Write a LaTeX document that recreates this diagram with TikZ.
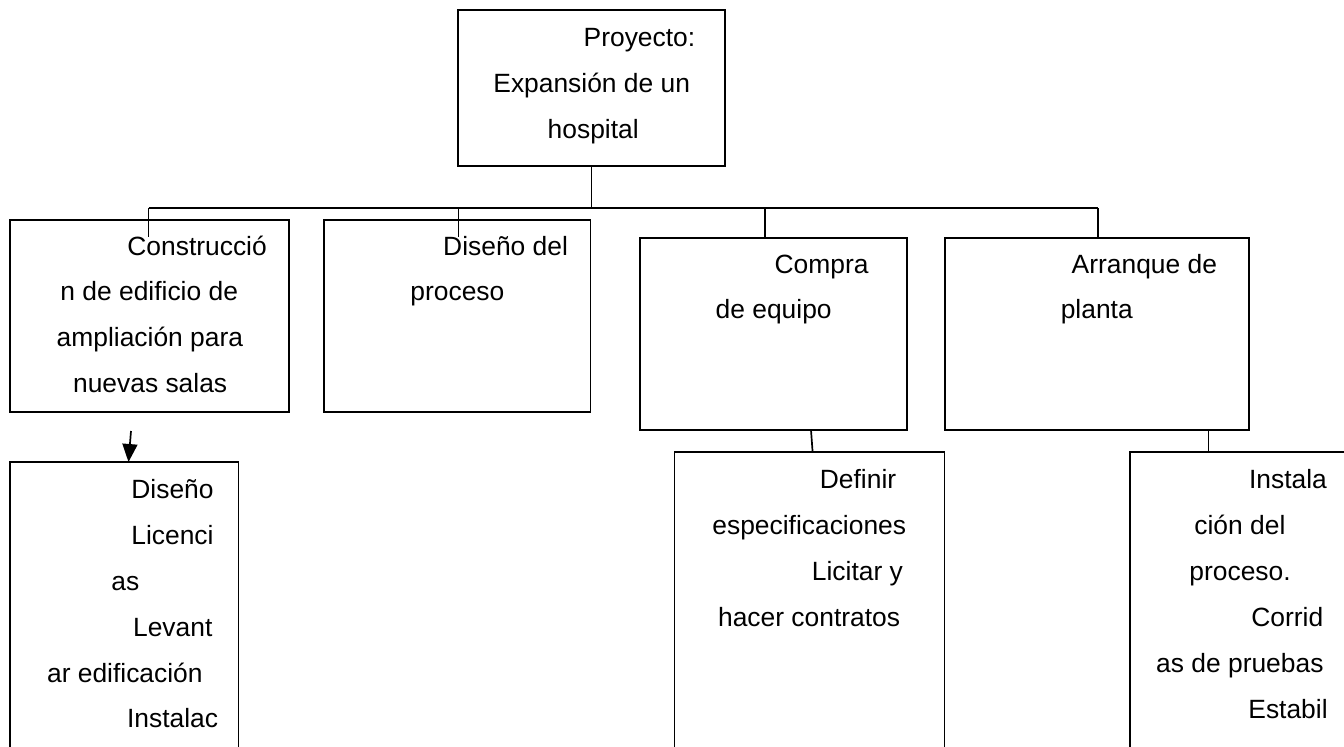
\documentclass[tikz,border=0pt]{standalone}
\usepackage{fontspec}
\setmainfont{Liberation Sans}
\usetikzlibrary{arrows.meta}
\begin{document}
\begin{tikzpicture}[x=0.5pt,y=-0.5pt,
  box/.style={draw,line width=0.95pt,anchor=north west,inner sep=0pt,outer sep=0pt},
  txt/.style={anchor=base west,inner sep=0pt,font=\fontsize{13.2}{15}\selectfont},
  conn/.style={line width=0.85pt},
  arr/.style={line width=0.85pt,-{Triangle[width=7.5pt,length=9pt]}}]
\clip (0,0) rectangle (1344,746);
% boxes
\node[box,minimum width=133.5pt,minimum height=78pt] (T) at (458,10) {};
\node[box,minimum width=139.5pt,minimum height=96pt] (B1) at (10,220) {};
\node[box,minimum width=133.25pt,minimum height=96pt] (B2) at (324,220) {};
\node[box,minimum width=133.3pt,minimum height=96pt] (B4) at (640,238) {};
\node[box,minimum width=152pt,minimum height=96pt] (B5) at (944.6,238) {};
\node[box,minimum width=114.25pt,minimum height=150pt] (B3) at (10,462) {};
\node[box,minimum width=135pt,minimum height=155pt] (B6) at (674.5,452) {};
\node[box,minimum width=120pt,minimum height=155pt] (B7) at (1130,452) {};
% connectors
\coordinate (barL) at (148.5,208);
\coordinate (barR) at (1098,208);
\coordinate (barM2) at (458.5,208);
\coordinate (barM3) at (765,208);
\coordinate (d1) at (148.5,237);
\coordinate (d2) at (458.5,237);
\coordinate (a1) at (131,431);
\draw[conn] (T.south) -- (T.south |- barL);
\draw[conn] (barL) -- (barR);
\draw[conn] (barL) -- (d1);
\draw[conn] (barM2) -- (d2);
\draw[conn] (barM3) -- (barM3 |- B4.north);
\draw[conn] (barR) -- (barR |- B5.north);
\draw[arr] (a1) -- (128.5,462);
\draw[conn] (811,430) -- (812.6,452);
\draw[conn] (1208.4,430) -- (1208.4,452);
% texts
\node[txt] (t1) at (583.3,46.7) {Proyecto:};
\node[txt] (t2) at (493,92.7) {Expansión de un};
\node[txt] (t3) at (547.3,138.7) {hospital};
\node[txt] (c1) at (127,255) {Construcció};
\node[txt] (c2) at (60,300.7) {n de edificio de};
\node[txt] (c3) at (56.3,346.7) {ampliación para};
\node[txt] (c4) at (72.7,392.7) {nuevas salas};
\node[txt] (p1) at (442.8,255) {Diseño del};
\node[txt] (p2) at (410,300.7) {proceso};
\node[txt] (q1) at (774.2,273.3) {Compra};
\node[txt] (q2) at (715.3,318.3) {de equipo};
\node[txt] (r1) at (1071.3,273.3) {Arranque de};
\node[txt] (r2) at (1060.4,318.3) {planta};
\node[txt] (s1) at (131,498) {Diseño};
\node[txt] (s2) at (131,544) {Licenci};
\node[txt] (s3) at (111,590) {as};
\node[txt] (s4) at (132.7,636) {Levant};
\node[txt] (s5) at (46.7,682) {ar edificación};
\node[txt] (s6) at (126.7,727) {Instalac};
\node[txt] (e1) at (819.5,488.3) {Definir};
\node[txt] (e2) at (712,534.3) {especificaciones};
\node[txt] (e3) at (811.5,580) {Licitar y};
\node[txt] (e4) at (717.7,626) {hacer contratos};
\node[txt] (i1) at (1248.7,488.3) {Instala};
\node[txt] (i2) at (1194,534.3) {ción del};
\node[txt] (i3) at (1189,580) {proceso.};
\node[txt] (i4) at (1251,626) {Corrid};
\node[txt] (i5) at (1155.8,672) {as de pruebas};
\node[txt] (i6) at (1248,718) {Estabil};
\end{tikzpicture}
\end{document}
